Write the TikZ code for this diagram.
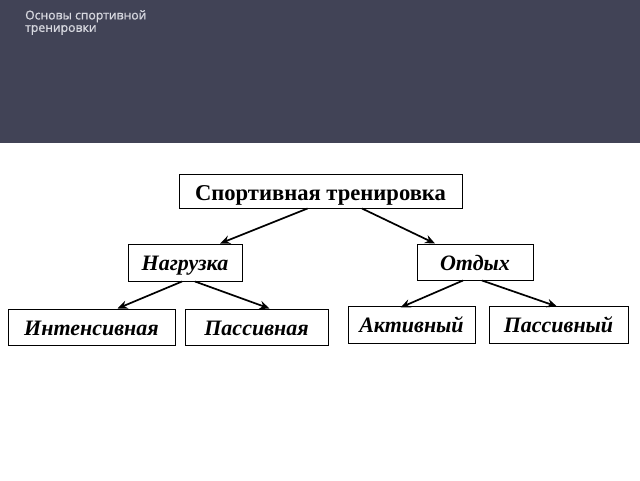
\documentclass[tikz,border=0pt]{standalone}
\usepackage{fontspec}
\setmainfont{Liberation Serif}
\newfontfamily\slidefont[FakeBold=1]{Open Sans}
\usepackage{tikz}
\usetikzlibrary{arrows.meta}
\usetikzlibrary{backgrounds}
\definecolor{slideBand}{HTML}{414356}
\definecolor{slideTitle}{HTML}{D8D9E0}

\begin{document}
\begin{tikzpicture}[x=1pt,y=-1pt]
\tikzset{TopLevel/.style={
  draw=black,
  line width=1pt,
  rectangle,
  align=center,
  inner sep=0pt,
  text height=18pt,
  text depth=0pt,
  font=\fontsize{22.6}{26}\selectfont\bfseries,
}}
\tikzset{SubLevel/.style={
  draw=black,
  line width=1pt,
  rectangle,
  align=center,
  inner sep=0pt,
  text height=16pt,
  text depth=0pt,
  font=\fontsize{22}{26}\selectfont\bfseries\itshape,
}}
\tikzset{link/.style={line width=1.7pt, -{Stealth[length=10pt,width=8.5pt]}}}

\useasboundingbox (0,0) rectangle (640,480);
\fill[slideBand] (0,0) rectangle (640,143);
\node[anchor=north west, align=left, text=slideTitle, inner sep=0pt,
      font=\slidefont\fontsize{12.2}{12.4}\selectfont] (title) at (25,10)
  {Основы спортивной\\тренировки};

\node[TopLevel, minimum width=283pt, minimum height=34pt] (sport) at (320.5,191) {Спортивная тренировка};

\node[SubLevel, minimum width=114pt, minimum height=37pt] (load) at (185,262.5) {Нагрузка};
\node[SubLevel, minimum width=116pt, minimum height=36pt] (rest) at (475,262) {Отдых};

\node[SubLevel, minimum width=167pt, minimum height=36pt] (intense) at (91.5,327) {Интенсивная};
\node[SubLevel, minimum width=143pt, minimum height=36pt] (passload) at (256.5,327) {Пассивная};
\node[SubLevel, minimum width=127pt, minimum height=37pt] (active) at (411.5,324.5) {Активный};
\node[SubLevel, minimum width=139pt, minimum height=37pt] (passrest) at (558.5,324.5) {Пассивный};

% first level
\draw[link] ([xshift=-13pt]sport.south) -- ([xshift=35pt]load.north);
\draw[link] ([xshift=41.5pt]sport.south) -- ([xshift=-40pt]rest.north);
% second level
\draw[link] ([xshift=-3pt]load.south) -- ([xshift=26pt]intense.north);
\draw[link] ([xshift=10pt]load.south) -- ([xshift=13pt]passload.north);
\draw[link] ([xshift=-12pt]rest.south) -- ([xshift=-11pt,yshift=-2pt]active.north);
\draw[link] ([xshift=7pt]rest.south) -- ([xshift=-1.5pt,yshift=-1pt]passrest.north);
\end{tikzpicture}
\end{document}
